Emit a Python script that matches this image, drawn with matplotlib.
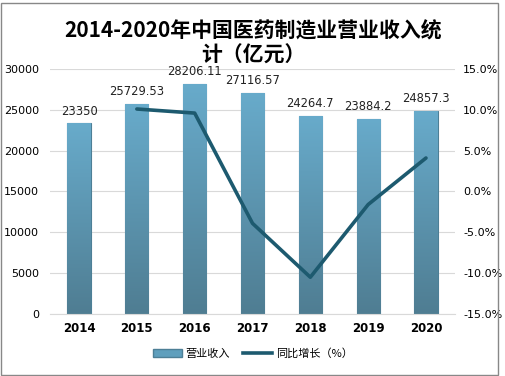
import matplotlib.pyplot as plt
import numpy as np
from matplotlib.lines import Line2D
from matplotlib.patches import Patch
from matplotlib.colors import LinearSegmentedColormap

plt.rcParams['font.family'] = ['Noto Sans CJK SC', 'DejaVu Sans']

years = ['2014', '2015', '2016', '2017', '2018', '2019', '2020']
revenue = [23350, 25729.53, 28206.11, 27116.57, 24264.7, 23884.2, 24857.3]
revenue_labels = ['23350', '25729.53', '28206.11', '27116.57', '24264.7', '23884.2', '24857.3']
growth_years = ['2015', '2016', '2017', '2018', '2019', '2020']
growth = [10.1, 9.6, -3.9, -10.5, -1.6, 4.1]

fig = plt.figure(figsize=(5.06, 3.76), dpi=100)
ax = fig.add_axes([0.099, 0.165, 0.80, 0.6515])
ax2 = ax.twinx()

x = np.arange(len(years))
bars = ax.bar(x, revenue, width=0.4, color='#5f9fbd', edgecolor='#4d7f96', linewidth=0.8, zorder=2)

# vertical gradient on each bar
grad = np.linspace(0, 1, 256).reshape(-1, 1)
cmap = LinearSegmentedColormap.from_list('bar', ['#4f7d92', '#68abcb'])
for b in bars:
    x0, y0 = b.get_x(), b.get_y()
    w, h = b.get_width(), b.get_height()
    im = ax.imshow(grad, extent=[x0, x0 + w, y0, y0 + h], origin='lower',
                   cmap=cmap, aspect='auto', zorder=2.5)
    im.set_clip_path(b)

for i, v in enumerate(revenue):
    ax.text(x[i], v + 700, revenue_labels[i], ha='center', va='bottom',
            fontsize=8.3, color='#222222', family='DejaVu Sans')

ax.set_xlim(-0.5, len(years) - 0.5)
ax.set_ylim(0, 30000)
ax.set_yticks(range(0, 30001, 5000))
ax.set_xticks(x)
ax.set_xticklabels(years, fontsize=8.5, fontweight='bold', family='DejaVu Sans')
ax.tick_params(axis='y', labelsize=8, length=0, pad=8)
ax.tick_params(axis='x', length=0, pad=6)
for lbl in ax.get_yticklabels():
    lbl.set_family('DejaVu Sans')
ax.grid(axis='y', color='#d9d9d9', linewidth=0.8, zorder=0)
ax.set_axisbelow(True)
for s in ax.spines.values():
    s.set_visible(False)
ax.spines['bottom'].set_visible(True)
ax.spines['bottom'].set_color('#d9d9d9')

gx = [years.index(y) for y in growth_years]
ax2.plot(gx, growth, color='#1d5a6f', linewidth=2.6, zorder=5, solid_capstyle='round')
ax2.set_ylim(-15, 15)
ax2.set_yticks(range(-15, 16, 5))
ax2.set_yticklabels([f'{v:.1f}%' for v in range(-15, 16, 5)], fontsize=8, family='DejaVu Sans')
ax2.tick_params(axis='y', length=0, pad=6)
for s in ax2.spines.values():
    s.set_visible(False)

fig.text(0.5, 0.918, '2014-2020年中国医药制造业营业收入统', ha='center', va='center',
         fontsize=15, fontweight='bold')
fig.text(0.5, 0.852, '计（亿元）', ha='center', va='center',
         fontsize=15, fontweight='bold')

handles = [Patch(facecolor='#5f9fbd', edgecolor='#4d7f96'),
           Line2D([0], [0], color='#1d5a6f', linewidth=2.6)]
fig.legend(handles, ['营业收入', '同比增长（%）'], loc='center', bbox_to_anchor=(0.5, 0.06),
           ncol=2, frameon=False, fontsize=8, handlelength=2.6, handleheight=0.7,
           columnspacing=1.2, handletextpad=0.3)

fig.add_artist(plt.Rectangle((0.002, 0.003), 0.983, 0.99, transform=fig.transFigure,
                             fill=False, edgecolor='#888888', linewidth=1.0))

fig.savefig('out.png', dpi=100)
